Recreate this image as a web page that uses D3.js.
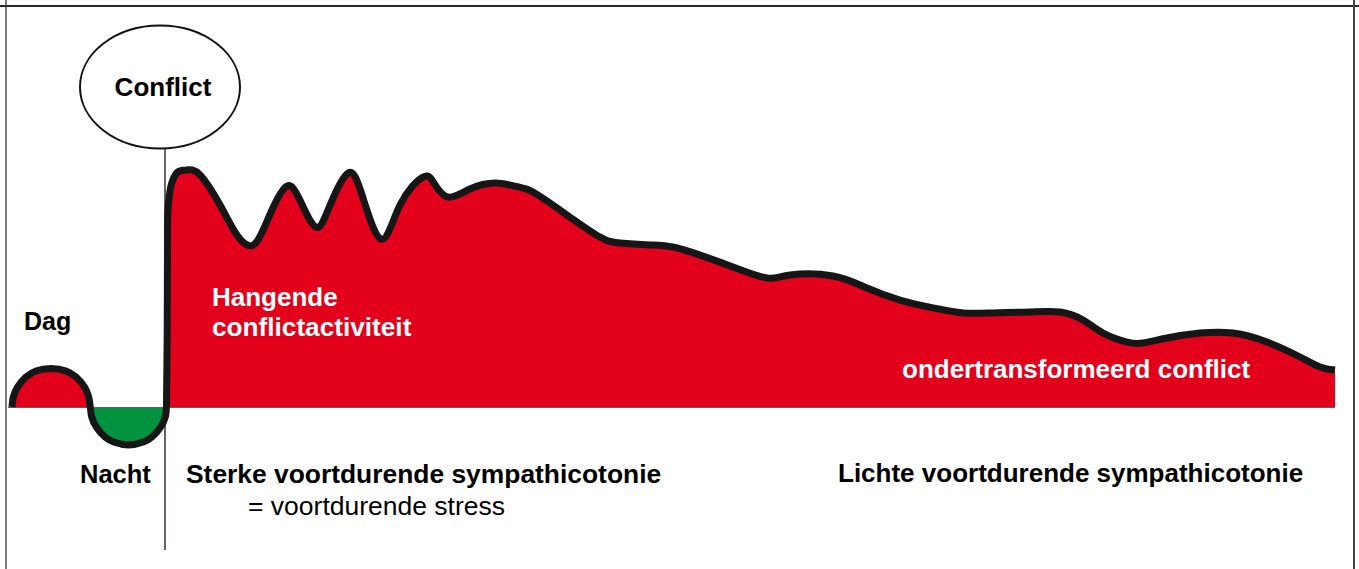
<!DOCTYPE html>
<html>
<head>
<meta charset="utf-8">
<script src="https://cdn.jsdelivr.net/npm/d3@7"></script>
<style>
  html, body { margin: 0; padding: 0; background: #fff; }
  svg { display: block; font-family: "Liberation Sans", Arial, sans-serif; }
</style>
</head>
<body>
<svg id="chart" width="1359" height="569"></svg>
<script>
// ---- Data (time in % of the shown period, level = sympathicotone tension; 0 = normal day/night rhythm line)
// phase 1: normal day / night rhythm
const rhythmTime  = [0.30, 0.40, 0.72, 1.36, 2.11, 3.24, 4.37, 5.12, 5.77, 6.08, 6.20,
                     6.31, 6.65, 7.32, 7.97, 9.08, 10.20, 10.84, 11.51, 11.85, 11.94];
const rhythmLevel = [0, 4.2, 8.4, 12.7, 15.2, 16.2, 15.2, 12.7, 8.4, 4.2, 0,
                     -4.2, -8.4, -12.7, -14.8, -16.0, -14.8, -12.7, -8.4, -4.2, 0];
// phase 2: conflict shock (sudden rise)
const shockTime   = [11.94, 12.0, 12.02, 12.08, 12.36, 12.81, 13.41];
const shockLevel  = [0, 32.5, 66.2, 85.2, 94.9, 99.2, 100];
// phase 3: hanging conflict activity, slowly decreasing
const activeTime  = [13.41, 14.47, 15.98, 17.11, 18.01, 18.84, 19.89,
                     21.02, 22.0, 23.21, 24.27, 25.62, 26.68, 28.11, 29.54, 31.27, 32.10, 33.16,
                     34.81, 36.70, 38.21, 39.56, 42.13, 44.61, 46.12, 48.38, 50.11, 52.15, 54.63,
                     57.20, 58.93, 62.17, 64.73, 67.22, 69.71, 71.97, 74.23, 77.02, 79.28, 81.01,
                     82.52, 84.33, 85.53, 87.34, 89.83, 92.31, 94.88, 97.36, 98.87, 100];
const activeLevel = [100, 97.9, 85.2, 73.8, 68.4, 70.5, 83.1,
                     93.2, 87.3, 75.9, 85.2, 98.7, 89.5, 70.9, 85.2, 97.0, 94.5, 88.6,
                     92.0, 94.5, 93.2, 90.7, 81.0, 71.7, 69.2, 68.4, 67.5, 64.1, 59.1,
                     54.4, 55.7, 55.3, 50.2, 45.1, 41.8, 39.7, 39.7, 40.1, 40.1, 36.7,
                     31.2, 27.4, 27.0, 29.1, 31.2, 31.2, 27.4, 21.1, 16.9, 15.6];
const conflictTime = 11.83;   // moment of the conflict shock
const labels = {
  conflict: "Conflict",
  day: "Dag",
  night: "Nacht",
  hanging1: "Hangende",
  hanging2: "conflictactiviteit",
  under: "ondertransformeerd conflict",
  strong: "Sterke voortdurende sympathicotonie",
  stress: "= voortdurende stress",
  light: "Lichte voortdurende sympathicotonie"
};

// ---- Layout
const W = 1359, H = 569;
const svg = d3.select("#chart");
const x = d3.scaleLinear().domain([0, 100]).range([8, 1335]);
const y = d3.scaleLinear().domain([0, 100]).range([407, 170]);
const zip = (ts, vs) => ts.map((t, i) => ({ t, v: vs[i] }));
const segs = [
  { data: zip(rhythmTime, rhythmLevel), curve: d3.curveCatmullRom.alpha(0.5) },
  { data: zip(shockTime, shockLevel), curve: d3.curveCatmullRom.alpha(0.5) },
  { data: zip(activeTime, activeLevel), curve: d3.curveNatural }
];
const RED = "#e2001a", GREEN = "#00923f";

// one continuous outline from the segments
let outline = "";
segs.forEach((s, i) => {
  const p = d3.line().x(d => x(d.t)).y(d => y(d.v)).curve(s.curve)(s.data);
  outline += i === 0 ? p : p.replace(/^M[^A-Za-z]*/, "");
});
const areaPath = outline + `L${x(100)},${y(0)}L${x(0)},${y(0)}Z`;

// frame
svg.append("line").attr("x1", 0).attr("x2", W).attr("y1", 6).attr("y2", 6)
  .attr("stroke", "#2a2a2a").attr("stroke-width", 2);
svg.append("line").attr("x1", 6).attr("x2", 6).attr("y1", 0).attr("y2", H)
  .attr("stroke", "#333").attr("stroke-width", 1.3);
svg.append("line").attr("x1", 1354).attr("x2", 1354).attr("y1", 0).attr("y2", H)
  .attr("stroke", "#444").attr("stroke-width", 2);

const defs = svg.append("defs");
defs.append("clipPath").attr("id", "above").append("rect")
  .attr("x", 0).attr("y", 0).attr("width", W).attr("height", y(0));
defs.append("clipPath").attr("id", "below").append("rect")
  .attr("x", 0).attr("y", y(0)).attr("width", W).attr("height", H - y(0));

svg.append("path").attr("d", areaPath).attr("fill", RED).attr("clip-path", "url(#above)");
svg.append("path").attr("d", areaPath).attr("fill", GREEN).attr("clip-path", "url(#below)");

// baseline
svg.append("line").attr("x1", x(0)).attr("x2", x(100)).attr("y1", y(0) + 0.5).attr("y2", y(0) + 0.5)
  .attr("stroke", "#6b5a5a").attr("stroke-width", 1.2);

// conflict vertical marker
svg.append("line").attr("x1", x(conflictTime)).attr("x2", x(conflictTime))
  .attr("y1", 149).attr("y2", 550).attr("stroke", "#6a6262").attr("stroke-width", 2);

// curve outline
svg.append("path").attr("d", outline).attr("fill", "none")
  .attr("stroke", "#161616").attr("stroke-width", 7)
  .attr("stroke-linejoin", "round").attr("stroke-linecap", "butt");

// conflict ellipse
svg.append("ellipse").attr("cx", 160).attr("cy", 87).attr("rx", 80).attr("ry", 61.5)
  .attr("fill", "#fff").attr("stroke", "#111").attr("stroke-width", 2);

function txt(s, px, py, opts = {}) {
  return svg.append("text").attr("x", px).attr("y", py)
    .attr("font-size", opts.size || 26)
    .attr("font-weight", opts.weight || "bold")
    .attr("fill", opts.fill || "#000")
    .attr("text-anchor", opts.anchor || "start")
    .text(s);
}
txt(labels.conflict, 163, 96, { size: 26, anchor: "middle" });
txt(labels.day, 24, 330, { size: 25 });
txt(labels.night, 80, 483, { size: 25.5 });
txt(labels.hanging1, 212, 306, { fill: "#fff" });
txt(labels.hanging2, 212, 336, { fill: "#fff", size: 26.2 });
txt(labels.under, 902, 378, { fill: "#fff" });
txt(labels.strong, 186, 483, { size: 26.4 });
txt(labels.stress, 248, 515, { weight: "normal", size: 26.5 });
txt(labels.light, 838, 482);
</script>
</body>
</html>
